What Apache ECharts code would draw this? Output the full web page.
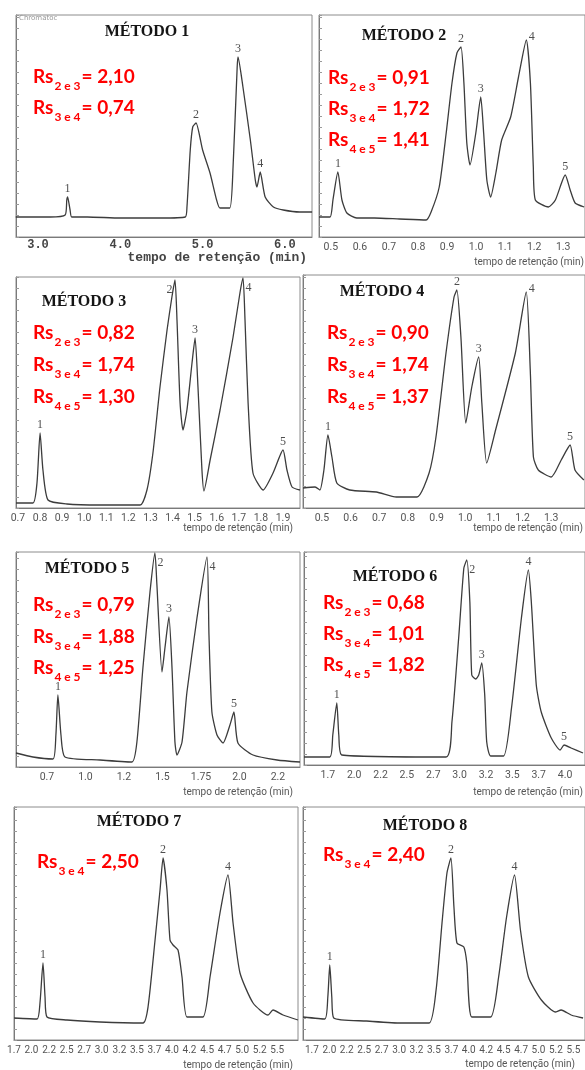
<!DOCTYPE html>
<html>
<head>
<meta charset="utf-8">
<title>Cromatogramas - Métodos 1 a 8</title>
<script src="https://cdn.jsdelivr.net/npm/echarts@6/dist/echarts.min.js"></script>
<style>
  html, body { margin: 0; padding: 0; background: #fff; }
  #chart { width: 585px; height: 1070px; }
</style>
</head>
<body>
<div id="chart"></div>
<script>
// Método 1
const m1Time = [2.73, 3.15, 3.33, 3.35, 3.36, 3.39, 3.41, 3.60, 4.00, 4.50, 4.79, 4.81, 4.85, 4.88, 4.92, 5.00, 5.09, 5.17, 5.21, 5.33, 5.37, 5.42, 5.43, 5.49, 5.58, 5.64, 5.66, 5.70, 5.76, 5.86, 5.98, 6.18, 6.33]
const m1Signal = [20, 20, 22, 37, 40, 27, 20, 20, 19, 19, 20, 30, 87, 110, 114, 87, 64, 37, 29, 29, 70, 170, 180, 150, 97, 57, 50, 65, 40, 30, 27, 25, 25]
const m1Peaks = ['1', '2', '3', '4']
const m1PeakTime = [3.36, 4.92, 5.43, 5.70]
const m1PeakSignal = [40, 114, 180, 65]
const m1Ticks = [3, 4, 5, 6]
const m1TickLabels = ['3.0', '4.0', '5.0', '6.0']
const m1RsPairs = ['2 e 3', '3 e 4']
const m1RsValues = ['2,10', '0,74']

// Método 2
const m2Time = [0.459, 0.497, 0.507, 0.524, 0.538, 0.555, 0.589, 0.65, 0.736, 0.828, 0.845, 0.873, 0.897, 0.917, 0.934, 0.948, 0.958, 0.968, 0.979, 0.999, 1.016, 1.026, 1.037, 1.050, 1.068, 1.088, 1.119, 1.146, 1.173, 1.187, 1.197, 1.204, 1.249, 1.273, 1.307, 1.324, 1.341, 1.372]
const m2Signal = [20, 20, 37, 65, 37, 24, 19, 19, 18, 17, 25, 50, 104, 154, 184, 190, 154, 94, 72, 104, 140, 104, 57, 40, 64, 97, 120, 160, 197, 154, 70, 37, 30, 37, 62, 47, 34, 30]
const m2Peaks = ['1', '2', '3', '4', '5']
const m2PeakTime = [0.524, 0.948, 1.016, 1.173, 1.307]
const m2PeakSignal = [65, 190, 140, 197, 62]
const m2Ticks = [0.5, 0.6, 0.7, 0.8, 0.9, 1.0, 1.1, 1.2, 1.3]
const m2TickLabels = ['0.5', '0.6', '0.7', '0.8', '0.9', '1.0', '1.1', '1.2', '1.3']
const m2RsPairs = ['2 e 3', '3 e 4', '4 e 5']
const m2RsValues = ['0,91', '1,72', '1,41']

// Método 3
const m3Time = [0.691, 0.768, 0.786, 0.800, 0.813, 0.836, 0.922, 1.071, 1.253, 1.284, 1.311, 1.343, 1.375, 1.397, 1.411, 1.420, 1.434, 1.447, 1.465, 1.488, 1.502, 1.515, 1.533, 1.542, 1.570, 1.615, 1.674, 1.705, 1.719, 1.728, 1.742, 1.764, 1.810, 1.855, 1.900, 1.918, 1.941, 1.977]
const m3Signal = [5, 5, 25, 75, 38, 8, 4, 3, 3, 18, 55, 121, 178, 211, 228, 188, 105, 78, 98, 145, 170, 121, 38, 17, 48, 98, 171, 215, 230, 188, 105, 35, 18, 35, 58, 38, 21, 18]
const m3Peaks = ['1', '2', '3', '4', '5']
const m3PeakTime = [0.800, 1.411, 1.502, 1.719, 1.900]
const m3PeakSignal = [75, 228, 170, 230, 58]
const m3Ticks = [0.7, 0.8, 0.9, 1.0, 1.1, 1.2, 1.3, 1.4, 1.5, 1.6, 1.7, 1.8, 1.9]
const m3TickLabels = ['0.7', '0.8', '0.9', '1.0', '1.1', '1.2', '1.3', '1.4', '1.5', '1.6', '1.7', '1.8', '1.9']
const m3RsPairs = ['2 e 3', '3 e 4', '4 e 5']
const m3RsValues = ['0,82', '1,74', '1,30']

// Método 4
const m4Time = [0.434, 0.476, 0.493, 0.507, 0.521, 0.535, 0.552, 0.597, 0.690, 0.760, 0.832, 0.874, 0.898, 0.933, 0.961, 0.971, 0.985, 1.002, 1.023, 1.047, 1.058, 1.075, 1.106, 1.175, 1.213, 1.227, 1.238, 1.255, 1.300, 1.335, 1.366, 1.383, 1.414]
const m4Signal = [20, 21, 18, 38, 73, 51, 25, 18, 16, 11, 11, 35, 71, 155, 211, 218, 171, 85, 121, 151, 105, 45, 78, 155, 216, 138, 51, 38, 31, 48, 63, 38, 28]
const m4Peaks = ['1', '2', '3', '4', '5']
const m4PeakTime = [0.521, 0.971, 1.047, 1.213, 1.366]
const m4PeakSignal = [73, 218, 151, 216, 63]
const m4Ticks = [0.5, 0.6, 0.7, 0.8, 0.9, 1.0, 1.1, 1.2, 1.3]
const m4TickLabels = ['0.5', '0.6', '0.7', '0.8', '0.9', '1.0', '1.1', '1.2', '1.3']
const m4RsPairs = ['2 e 3', '3 e 4', '4 e 5']
const m4RsValues = ['0,90', '1,74', '1,37']

// Método 5
const m5Time = [0.549, 0.659, 0.789, 0.808, 0.821, 0.841, 0.867, 1.094, 1.302, 1.334, 1.373, 1.419, 1.451, 1.464, 1.497, 1.516, 1.542, 1.562, 1.581, 1.594, 1.627, 1.659, 1.724, 1.789, 1.802, 1.821, 1.854, 1.893, 1.938, 1.964, 1.990, 2.088, 2.244, 2.393]
const m5Signal = [14, 10, 8, 32, 72, 32, 10, 7, 5, 25, 99, 175, 214, 182, 95, 119, 150, 99, 25, 12, 25, 75, 149, 210, 132, 55, 32, 24, 42, 55, 24, 12, 7, 5]
const m5Peaks = ['1', '2', '3', '4', '5']
const m5PeakTime = [0.821, 1.451, 1.542, 1.789, 1.964]
const m5PeakSignal = [72, 214, 150, 210, 55]
const m5Ticks = [0.75, 1.0, 1.25, 1.5, 1.75, 2.0, 2.25]
const m5TickLabels = ['0.7', '1.0', '1.2', '1.5', '1.75', '2.0', '2.2']
const m5RsPairs = ['2 e 3', '3 e 4', '4 e 5']
const m5RsValues = ['0,79', '1,88', '1,25']

// Método 6
const m6Time = [1.524, 1.769, 1.797, 1.835, 1.854, 1.882, 2.871, 2.927, 2.993, 3.040, 3.068, 3.097, 3.115, 3.153, 3.181, 3.210, 3.238, 3.257, 3.294, 3.417, 3.492, 3.586, 3.652, 3.680, 3.727, 3.774, 3.869, 3.953, 3.991, 4.057, 4.170]
const m6Signal = [8, 8, 30, 62, 30, 10, 8, 43, 130, 197, 205, 163, 90, 86, 90, 102, 70, 23, 9, 9, 57, 147, 195, 163, 80, 53, 27, 15, 20, 17, 12]
const m6Peaks = ['1', '2', '3', '4', '5']
const m6PeakTime = [1.835, 3.068, 3.210, 3.652, 3.991]
const m6PeakSignal = [62, 205, 102, 195, 20]
const m6Ticks = [1.75, 2.0, 2.25, 2.5, 2.75, 3.0, 3.25, 3.5, 3.75, 4.0]
const m6TickLabels = ['1.7', '2.0', '2.2', '2.5', '2.7', '3.0', '3.2', '3.5', '3.7', '4.0']
const m6RsPairs = ['2 e 3', '3 e 4', '4 e 5']
const m6RsValues = ['0,68', '1,01', '1,82']

// Método 7
const m7Time = [1.75, 2.078, 2.120, 2.163, 2.192, 2.220, 2.505, 2.975, 3.588, 3.659, 3.759, 3.830, 3.873, 3.929, 3.972, 4.015, 4.086, 4.143, 4.214, 4.442, 4.542, 4.684, 4.798, 4.870, 4.969, 5.155, 5.368, 5.439, 5.582, 5.795]
const m7Signal = [22, 21, 37, 77, 43, 23, 20, 18, 17, 33, 100, 150, 182, 150, 100, 95, 90, 63, 23, 23, 63, 127, 165, 117, 67, 37, 25, 30, 25, 20]
const m7Peaks = ['1', '2', '4']
const m7PeakTime = [2.163, 3.873, 4.798]
const m7PeakSignal = [77, 182, 165]
const m7Ticks = [1.75, 2.0, 2.25, 2.5, 2.75, 3.0, 3.25, 3.5, 3.75, 4.0, 4.25, 4.5, 4.75, 5.0, 5.25, 5.5]
const m7TickLabels = ['1.7', '2.0', '2.2', '2.5', '2.7', '3.0', '3.2', '3.5', '3.7', '4.0', '4.2', '4.5', '4.7', '5.0', '5.2', '5.5']
const m7RsPairs = ['3 e 4']
const m7RsValues = ['2,50']

// Método 8
const m8Time = [1.622, 1.935, 1.978, 2.006, 2.035, 2.063, 2.533, 3.004, 3.431, 3.531, 3.616, 3.687, 3.744, 3.787, 3.830, 3.929, 3.972, 4.043, 4.314, 4.428, 4.542, 4.656, 4.741, 4.855, 5.041, 5.240, 5.325, 5.468, 5.639]
const m8Signal = [23, 21, 43, 75, 43, 22, 19, 17, 17, 50, 117, 167, 182, 133, 97, 93, 77, 23, 23, 63, 123, 165, 110, 63, 40, 28, 30, 25, 22]
const m8Peaks = ['1', '2', '4']
const m8PeakTime = [2.006, 3.744, 4.656]
const m8PeakSignal = [75, 182, 165]
const m8Ticks = [1.75, 2.0, 2.25, 2.5, 2.75, 3.0, 3.25, 3.5, 3.75, 4.0, 4.25, 4.5, 4.75, 5.0, 5.25, 5.5]
const m8TickLabels = ['1.7', '2.0', '2.2', '2.5', '2.7', '3.0', '3.2', '3.5', '3.7', '4.0', '4.2', '4.5', '4.7', '5.0', '5.2', '5.5']
const m8RsPairs = ['3 e 4']
const m8RsValues = ['2,40']

const axisTitle = 'tempo de retenção (min)'
const narrowFont = 'Roboto, "Liberation Sans", sans-serif'

// layout of each scanned panel (pixels) and where its texts sit
const panels = [
  { title: 'MÉTODO 1', time: m1Time, signal: m1Signal, peaks: m1Peaks, peakTime: m1PeakTime, peakSignal: m1PeakSignal, ticks: m1Ticks, tickLabels: m1TickLabels, rsPairs: m1RsPairs, rsValues: m1RsValues,
    grid: { left: 16, top: 15, width: 296, height: 222 }, xMin: 2.733, xMax: 6.329, yMax: 222,
    sides: ['top', 'top', 'top', 'top'], titleAt: [147, 32], rsAt: [33, 76.5], rsStep: 31, nameAt: [307, 258], mono: true },
  { title: 'MÉTODO 2', time: m2Time, signal: m2Signal, peaks: m2Peaks, peakTime: m2PeakTime, peakSignal: m2PeakSignal, ticks: m2Ticks, tickLabels: m2TickLabels, rsPairs: m2RsPairs, rsValues: m2RsValues,
    grid: { left: 319, top: 15, width: 268, height: 222 }, xMin: 0.459, xMax: 1.375, yMax: 222,
    sides: ['top', 'top', 'top', 'right', 'top'], titleAt: [404, 36], rsAt: [328, 77.5], rsStep: 31.3, nameAt: [584, 262] },
  { title: 'MÉTODO 3', time: m3Time, signal: m3Signal, peaks: m3Peaks, peakTime: m3PeakTime, peakSignal: m3PeakSignal, ticks: m3Ticks, tickLabels: m3TickLabels, rsPairs: m3RsPairs, rsValues: m3RsValues,
    grid: { left: 16, top: 277, width: 284, height: 231 }, xMin: 0.691, xMax: 1.977, yMax: 231,
    sides: ['top', 'left', 'top', 'right', 'top'], titleAt: [84, 302], rsAt: [33, 333], rsStep: 32, nameAt: [293, 528] },
  { title: 'MÉTODO 4', time: m4Time, signal: m4Signal, peaks: m4Peaks, peakTime: m4PeakTime, peakSignal: m4PeakSignal, ticks: m4Ticks, tickLabels: m4TickLabels, rsPairs: m4RsPairs, rsValues: m4RsValues,
    grid: { left: 303, top: 275, width: 284, height: 233 }, xMin: 0.434, xMax: 1.418, yMax: 233,
    sides: ['top', 'top', 'top', 'right', 'top'], titleAt: [382, 292], rsAt: [327, 333], rsStep: 32, nameAt: [583, 528] },
  { title: 'MÉTODO 5', time: m5Time, signal: m5Signal, peaks: m5Peaks, peakTime: m5PeakTime, peakSignal: m5PeakSignal, ticks: m5Ticks, tickLabels: m5TickLabels, rsPairs: m5RsPairs, rsValues: m5RsValues,
    grid: { left: 16, top: 552, width: 284, height: 215 }, xMin: 0.549, xMax: 2.393, yMax: 215,
    sides: ['top', 'right', 'top', 'right', 'top'], titleAt: [87, 569], rsAt: [33, 605], rsStep: 31.5, nameAt: [293, 792] },
  { title: 'MÉTODO 6', time: m6Time, signal: m6Signal, peaks: m6Peaks, peakTime: m6PeakTime, peakSignal: m6PeakSignal, ticks: m6Ticks, tickLabels: m6TickLabels, rsPairs: m6RsPairs, rsValues: m6RsValues,
    grid: { left: 304, top: 552, width: 283, height: 213 }, xMin: 1.524, xMax: 4.189, yMax: 213,
    sides: ['top', 'right', 'top', 'top', 'top'], titleAt: [395, 577], rsAt: [323, 603], rsStep: 31, nameAt: [583, 792] },
  { title: 'MÉTODO 7', time: m7Time, signal: m7Signal, peaks: m7Peaks, peakTime: m7PeakTime, peakSignal: m7PeakSignal, ticks: m7Ticks, tickLabels: m7TickLabels, rsPairs: m7RsPairs, rsValues: m7RsValues,
    grid: { left: 14, top: 807, width: 284, height: 233 }, xMin: 1.75, xMax: 5.795, yMax: 233,
    sides: ['top', 'top', 'top'], titleAt: [139, 822], rsAt: [37, 862], rsStep: 31, nameAt: [293, 1065], dense: true },
  { title: 'MÉTODO 8', time: m8Time, signal: m8Signal, peaks: m8Peaks, peakTime: m8PeakTime, peakSignal: m8PeakSignal, ticks: m8Ticks, tickLabels: m8TickLabels, rsPairs: m8RsPairs, rsValues: m8RsValues,
    grid: { left: 303, top: 807, width: 284, height: 233 }, xMin: 1.622, xMax: 5.667, yMax: 233,
    sides: ['top', 'top', 'top'], titleAt: [425, 826], rsAt: [323, 855], rsStep: 31, nameAt: [575, 1064], dense: true }
]

const grids = []
const xAxes = []
const yAxes = []
const series = []
const graphics = []

panels.forEach(function (p, i) {
  grids.push(Object.assign({ show: true, borderColor: '#8c8c8c', borderWidth: 1 }, p.grid))

  xAxes.push({
    gridIndex: i,
    type: 'value',
    min: p.xMin,
    max: p.xMax,
    axisLine: { show: true, onZero: false, lineStyle: { color: '#7a7a7a' } },
    axisTick: { show: false },
    splitLine: { show: false },
    axisLabel: {
      customValues: p.ticks,
      margin: p.mono ? 2 : 5,
      color: p.mono ? '#444' : '#555',
      fontFamily: p.mono ? '"Liberation Mono", monospace' : narrowFont,
      fontWeight: p.mono ? 'bold' : 'normal',
      fontSize: p.mono ? 12 : (p.dense ? 10 : 10.5),
      formatter: function (v) {
        let best = 0
        p.ticks.forEach(function (t, k) {
          if (Math.abs(t - v) < Math.abs(p.ticks[best] - v)) best = k
        })
        return p.tickLabels[best]
      }
    }
  })

  yAxes.push({
    gridIndex: i,
    type: 'value',
    min: 0,
    max: p.yMax,
    interval: 11,
    axisLine: { show: true, lineStyle: { color: '#7a7a7a' } },
    axisTick: { show: true, inside: true, length: 3, lineStyle: { color: '#9a9a9a' } },
    axisLabel: { show: false },
    splitLine: { show: false }
  })

  // chromatogram trace
  series.push({
    type: 'line',
    xAxisIndex: i,
    yAxisIndex: i,
    data: p.time.map(function (t, k) { return [t, p.signal[k]] }),
    showSymbol: false,
    smooth: 0.2,
    lineStyle: { color: '#3c3c3c', width: 1.3 },
    silent: true
  })

  // peak numbers
  series.push({
    type: 'scatter',
    xAxisIndex: i,
    yAxisIndex: i,
    symbolSize: 1,
    itemStyle: { color: 'rgba(0,0,0,0)' },
    silent: true,
    data: p.peaks.map(function (n, k) {
      const side = p.sides[k]
      // peaks cut by the frame get their number lower down, beside the trace
      const nearTop = p.peakSignal[k] > p.yMax - 12
      return {
        value: [p.peakTime[k], p.peakSignal[k]],
        name: n,
        label: { position: side, offset: side === 'top' ? [0, 0] : [0, nearTop ? 10 : -3] }
      }
    }),
    label: {
      show: true,
      formatter: '{b}',
      fontFamily: '"Liberation Serif", serif',
      fontSize: 12,
      color: '#222',
      distance: 2
    }
  })

  graphics.push({
    type: 'text',
    x: p.titleAt[0],
    y: p.titleAt[1],
    style: {
      text: p.title,
      font: 'bold 16px "Liberation Serif", serif',
      fill: '#151515',
      align: 'center',
      verticalAlign: 'middle',
      textAlign: 'center',
      textVerticalAlign: 'middle'
    }
  })

  graphics.push({
    type: 'text',
    x: p.nameAt[0],
    y: p.nameAt[1],
    style: {
      text: axisTitle,
      font: p.mono ? 'bold 13px "Liberation Mono", monospace' : '10px ' + narrowFont,
      fill: p.mono ? '#444' : '#555',
      align: 'right',
      verticalAlign: 'middle',
      textAlign: 'right',
      textVerticalAlign: 'middle'
    }
  })

  // resolution values in red
  p.rsPairs.forEach(function (pair, k) {
    graphics.push({
      type: 'text',
      x: p.rsAt[0],
      y: p.rsAt[1] + k * p.rsStep - 15.5,
      style: {
        text: '{r|Rs}{s|' + pair + '}{r|= ' + p.rsValues[k] + '}',
        align: 'left',
        verticalAlign: 'top',
        textAlign: 'left',
        textVerticalAlign: 'top',
        rich: {
          r: { fontFamily: 'Lato, "Open Sans", sans-serif', fontWeight: 'bold', fontSize: 19, fill: '#f00', color: '#f00' },
          s: { fontFamily: 'Lato, "Open Sans", sans-serif', fontWeight: 'bold', fontSize: 12, fill: '#f00', color: '#f00', padding: [19, 1, 0, 1] }
        }
      }
    })
  })
})

graphics.push({
  type: 'text',
  x: 19,
  y: 18,
  style: { text: 'Chromatoc', font: '7px "DejaVu Sans", sans-serif', fill: '#999', align: 'left', verticalAlign: 'middle' }
})

const myChart = echarts.init(document.getElementById('chart'), null, { renderer: 'canvas' })
myChart.setOption({
  animation: false,
  backgroundColor: '#fff',
  grid: grids,
  xAxis: xAxes,
  yAxis: yAxes,
  series: series,
  graphic: { elements: graphics }
})
</script>
</body>
</html>
